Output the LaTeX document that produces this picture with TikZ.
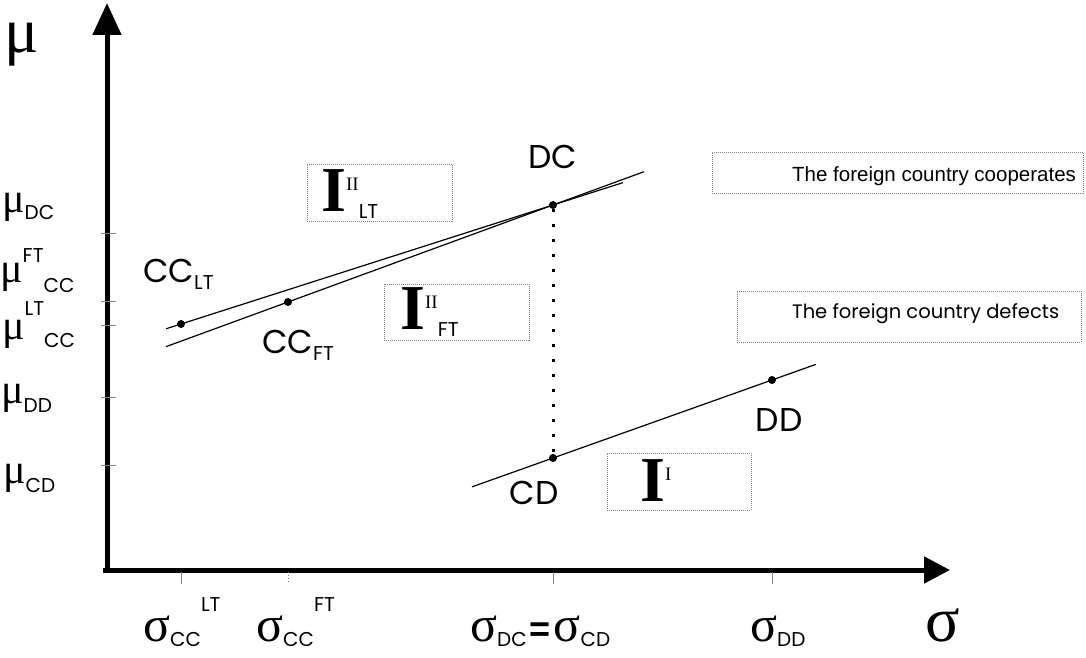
\documentclass[tikz,border=0pt]{standalone}
\usepackage{fontspec}
\setmainfont{Liberation Sans}
\newfontfamily\grk{Liberation Serif}
\newfontfamily\gothic{Poppins}
\usetikzlibrary{arrows.meta, calc}

\newcommand{\gsym}[2]{{\fontsize{#1}{#1}\selectfont\grk #2}}
\newcommand{\idx}[2]{\raisebox{#1pt}{\fontsize{20}{20}\selectfont\gothic #2}}
\newcommand{\ptname}[1]{{\fontsize{33}{33}\selectfont\gothic #1}}
\newcommand{\bigI}{{\fontsize{64}{64}\selectfont\grk\bfseries I}}
\newcommand{\romn}[1]{\raisebox{21pt}{\fontsize{19}{19}\selectfont\grk #1}}

\begin{document}
\begin{tikzpicture}[x=1pt, y=-1pt,
  lbl/.style={inner sep=0pt, anchor=base west},
  axis/.style={line width=5pt},
  tick/.style={draw=gray, line width=1pt},
  curve/.style={line width=1.2pt},
  pt/.style={circle, fill, inner sep=0pt, minimum size=8pt},
  dbox/.style={draw=gray, dash pattern=on 1pt off 1pt, line width=0.8pt, anchor=north west, inner sep=0pt}]
\useasboundingbox (0,0) rectangle (1086,658);

\coordinate (ybot) at (107,573);
\coordinate (ytop) at (107,3);
\coordinate (xbeg) at (103,570);
\coordinate (xend) at (950,570);
\draw[axis, -{Triangle[length=32pt,width=28pt]}] (ybot) -- (ytop);
\draw[axis, -{Triangle[length=26pt,width=26pt]}] (xbeg) -- (xend);
\foreach \y in {233,301,325,397,465} \draw[tick] (101,\y) -- (116,\y);
\foreach \x in {181,553,772} \draw[tick] (\x,572) -- (\x,584);
\draw[tick, dotted] (288,572) -- (288,584);

\node[pt] (cclt) at (181,324) {};
\node[pt] (ccft) at (288,302) {};
\node[pt] (dc) at (553,205) {};
\node[pt] (cd) at (553,458) {};
\node[pt] (dd) at (772,380) {};

\coordinate (lta) at ($(cclt)!-0.04!(dc)$);
\coordinate (ltb) at ($(cclt)!1.188!(dc)$);
\coordinate (fta) at ($(ccft)!-0.46!(dc)$);
\coordinate (ftb) at ($(ccft)!1.343!(dc)$);
\coordinate (dda) at ($(cd)!-0.37!(dd)$);
\coordinate (ddb) at ($(cd)!1.2!(dd)$);
\draw[curve] (lta) -- (ltb);
\draw[curve] (fta) -- (ftb);
\draw[curve] (dda) -- (ddb);
\draw[line width=3pt, dash pattern=on 3pt off 12pt] (dc) -- (cd);

\node[lbl] (cclab) at (143,282) {\ptname{CC}\idx{-7}{LT}};
\node[lbl] (ftlab) at (262,353) {\ptname{CC}\idx{-7}{FT}};
\node[lbl, anchor=base] (dclab) at (553,168) {\ptname{DC}};
\node[lbl, anchor=base] (cdlab) at (534,504) {\ptname{CD}};
\node[lbl, anchor=base] (ddlab) at (779,431) {\ptname{DD}};

\node[dbox, minimum width=145pt, minimum height=57pt] (ltbox) at (307,164) {};
\node[dbox, minimum width=145pt, minimum height=56pt] (ftbox) at (384,284) {};
\node[dbox, minimum width=144pt, minimum height=57pt] (ibox) at (607,453) {};
\node[lbl] (ltI) at (321,211) {\bigI\romn{II}\idx{-7}{LT}};
\node[lbl] (ftI) at (400,329) {\bigI\romn{II}\idx{-7}{FT}};
\node[lbl] (iI) at (640,501) {\bigI\romn{I}};

\node[dbox, minimum width=371pt, minimum height=41pt] (coopbox) at (712,152) {};
\node[lbl] (coop) at (792,181) {\fontsize{20.5}{20.5}\selectfont The foreign country cooperates};
\node[dbox, minimum width=344pt, minimum height=51pt] (defbox) at (737,291) {};
\node[lbl] (def) at (792,318) {\fontsize{19.5}{19.5}\selectfont\gothic The foreign country defects};

\node[lbl] (mu) at (4,53) {\gsym{64}{μ}};
\node[lbl] (mudc) at (2,212) {\gsym{42}{μ}\idx{-7}{DC}};
\node[lbl] (muft) at (0,282) {\gsym{42}{μ}\idx{20}{FT}\idx{-10}{CC}};
\node[lbl] (mult) at (2,339) {\gsym{42}{μ}\idx{24}{LT}\idx{-8}{CC}};
\node[lbl] (mudd) at (1,403) {\gsym{42}{μ}\idx{-9}{DD}};
\node[lbl] (mucd) at (3,483) {\gsym{42}{μ}\idx{-9}{CD}};

\node[lbl] (sglt) at (143,641) {\gsym{50}{σ}\idx{-5}{CC}\idx{30}{LT}};
\node[lbl] (sgft) at (256,641) {\gsym{50}{σ}\idx{-5}{CC}\idx{30}{FT}};
\node[lbl] (sgdc) at (470,641) {\gsym{50}{σ}\idx{-5}{DC}\hspace{3pt}{\fontsize{36}{36}\selectfont\bfseries =}\hspace{3pt}\gsym{50}{σ}\idx{-5}{CD}};
\node[lbl] (sgdd) at (750,641) {\gsym{50}{σ}\idx{-5}{DD}};
\node[lbl] (sg) at (925,641) {\gsym{64}{σ}};
\end{tikzpicture}
\end{document}
